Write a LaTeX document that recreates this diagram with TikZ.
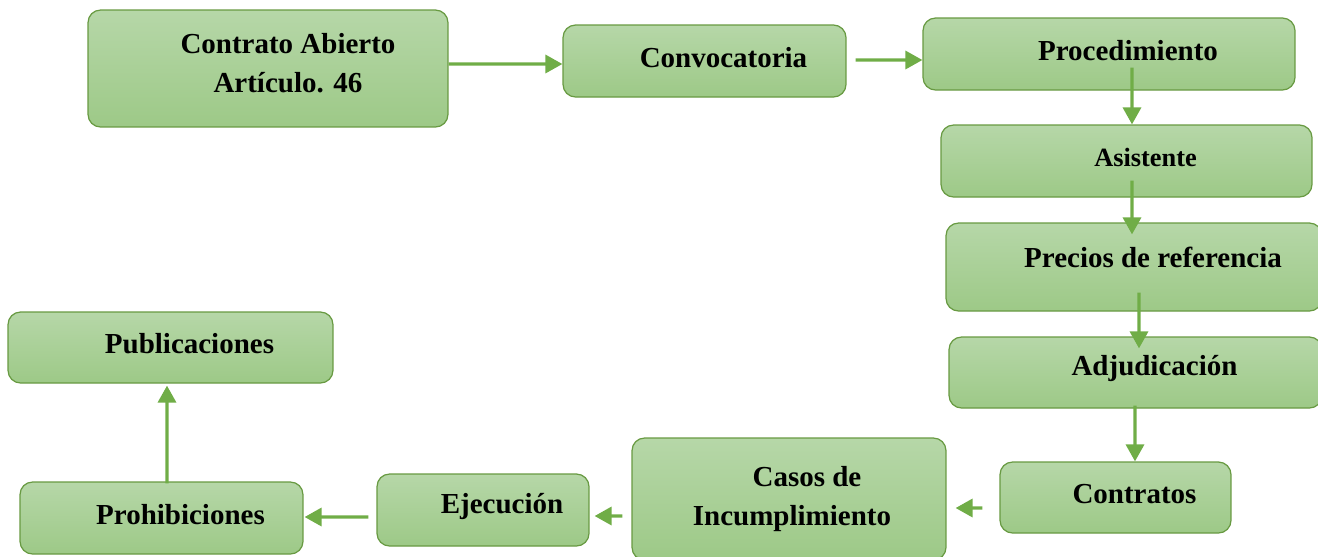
\documentclass[tikz,border=0pt]{standalone}
\usepackage{fontspec}
\setmainfont{Liberation Serif}
\usetikzlibrary{arrows.meta,positioning}
\definecolor{boxtop}{RGB}{182,215,168}
\definecolor{boxbot}{RGB}{157,201,135}
\definecolor{boxline}{RGB}{104,154,66}
\definecolor{arrowgreen}{RGB}{112,173,71}
\begin{document}
\begin{tikzpicture}[x=0.02cm,y=-0.02cm,
		box/.style={draw=boxline,line width=0.7pt,rounded corners=0.25cm,top color=boxtop,bottom color=boxbot,
			minimum height=1.44cm},
		lbl/.style={font=\fontsize{16.5}{22}\selectfont\bfseries,align=center,xshift=0.38cm,yshift=0.07cm},
		arr/.style={draw=arrowgreen,line width=1.9pt,-{Triangle[length=0.34cm,width=0.36cm]}}]
		\clip (0,0) rectangle (1318,556);
		
		\node[box,minimum width=7.2cm,minimum height=2.34cm] (contrato) at (268,68.5)
			[label={[lbl,xshift=0.02cm,yshift=0.04cm]center:Contrato Abierto\\Artículo. 46}]{};
		\node[box,minimum width=5.66cm] (convoc) at (704.5,61) [label={[lbl]center:Convocatoria}]{};
		\node[box,minimum width=7.44cm] (proced) at (1109,54) [label={[lbl]center:Procedimiento}]{};
		\node[box,minimum width=7.42cm] (asist) at (1126.5,161)
			[label={[lbl,font=\fontsize{15}{18}\selectfont\bfseries]center:Asistente}]{};
		\node[box,minimum width=7.52cm,minimum height=1.76cm] (precios) at (1134,267)
			[label={[lbl,yshift=0.13cm]center:Precios de referencia}]{};
		\node[box,minimum width=7.46cm,minimum height=1.42cm] (adjud) at (1135.5,372.5) [label={[lbl]center:Adjudicación}]{};
		\node[box,minimum width=4.62cm,minimum height=1.42cm] (contratos) at (1115.5,497.5) [label={[lbl]center:Contratos}]{};
		\node[box,minimum width=6.28cm,minimum height=2.44cm] (casos) at (789,499)
			[label={[lbl,xshift=-0.32cm,yshift=-0.07cm]center:\hspace*{0.6cm}Casos de\\Incumplimiento}]{};
		\node[box,minimum width=4.24cm] (ejec) at (483,510) [label={[lbl]center:Ejecución}]{};
		\node[box,minimum width=5.66cm] (prohib) at (161.5,518) [label={[lbl]center:Prohibiciones}]{};
		\node[box,minimum width=6.5cm,minimum height=1.42cm] (public) at (170.5,347.5) [label={[lbl]center:Publicaciones}]{};
		
		% arrows
		\draw[arr] ([yshift=0.09cm]contrato.east) -- ([yshift=-0.06cm]convoc.west);
		\draw[arr,shorten <=0.18cm] ([yshift=0.02cm]convoc.east) -- ([yshift=-0.12cm]proced.west);
		\draw[arr,shorten <=-0.46cm] ([xshift=0.46cm]proced.south) -- ([xshift=0.11cm]asist.north);
		\draw[arr,shorten <=-0.34cm,shorten >=-0.24cm] ([xshift=0.11cm]asist.south) -- ([xshift=-0.04cm]precios.north);
		\draw[arr,shorten <=-0.38cm,shorten >=-0.24cm] ([xshift=0.1cm]precios.south) -- ([xshift=0.07cm]adjud.north);
		\draw[arr,shorten <=-0.06cm] ([xshift=-0.01cm]adjud.south) -- ([xshift=0.39cm]contratos.north);
		\draw[arr,shorten <=0.34cm,shorten >=0.18cm] ([yshift=-0.21cm]contratos.west) -- ([yshift=-0.18cm]casos.east);
		\draw[arr,shorten <=0.18cm,shorten >=0.1cm] ([yshift=-0.34cm]casos.west) -- ([yshift=-0.12cm]ejec.east);
		\draw[arr,shorten <=0.16cm,shorten >=0.02cm] ([yshift=-0.14cm]ejec.west) -- ([yshift=0.02cm]prohib.east);
		\draw[arr,shorten <=-0.04cm,shorten >=0.04cm] ([xshift=0.11cm]prohib.north) -- ([xshift=-0.07cm]public.south);
\end{tikzpicture}
\end{document}
